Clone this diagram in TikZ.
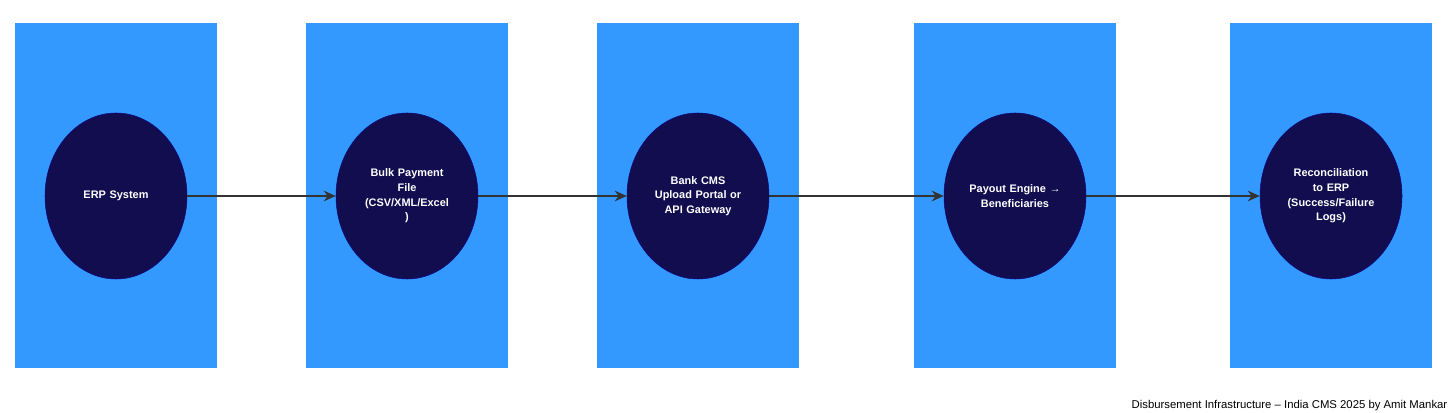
\documentclass[tikz,border=0pt]{standalone}
\usepackage{fontspec}
\setmainfont{Liberation Sans}
\usetikzlibrary{arrows.meta,shapes.geometric}
\definecolor{panelblue}{HTML}{3399FF}
\definecolor{nodenavy}{HTML}{120D4F}
\definecolor{arrowgrey}{HTML}{333333}
\tikzset{
  panel/.style={fill=panelblue, draw=none},
  stage/.style={ellipse, fill=nodenavy, draw=nodenavy!70!blue, minimum width=106.5pt,
    minimum height=124.5pt, inner sep=0pt, text=white, align=center,
    font=\fontsize{8.2}{11}\selectfont\bfseries, text width=75pt},
  flow/.style={-{Stealth[length=9pt,width=8pt]}, arrowgrey, line width=1.3pt}
}
\begin{document}
\begin{tikzpicture}[x=0.75pt, y=-0.75pt]
\useasboundingbox[fill=white] (0,0) rectangle (1456,413);
% Panels
\foreach \l in {15,306,597,914,1230}
  \fill[panel] (\l,23) rectangle ++(202,345);
% Stages
\node[stage] (erp) at (116,196) {ERP System};
\node[stage] (bulk) at (407,196) {Bulk Payment\\File\\(CSV/XML/Excel\\)};
\node[stage] (cms) at (698,196) {Bank CMS\\Upload Portal or\\API Gateway};
\node[stage] (payout) at (1015,196) {Payout Engine →\\Beneficiaries};
\node[stage] (recon) at (1331,196) {Reconciliation\\to ERP\\(Success/Failure\\Logs)};
% edges
\draw[flow] (erp) -- (bulk);
\draw[flow] (bulk) -- (cms);
\draw[flow] (cms) -- (payout);
\draw[flow] (payout) -- (recon);
%
\node[anchor=base east, font=\fontsize{8.5}{10}\selectfont] (credit) at (1452,408)
  {Disbursement Infrastructure – India CMS 2025 by Amit Mankar};
\end{tikzpicture}
\end{document}
